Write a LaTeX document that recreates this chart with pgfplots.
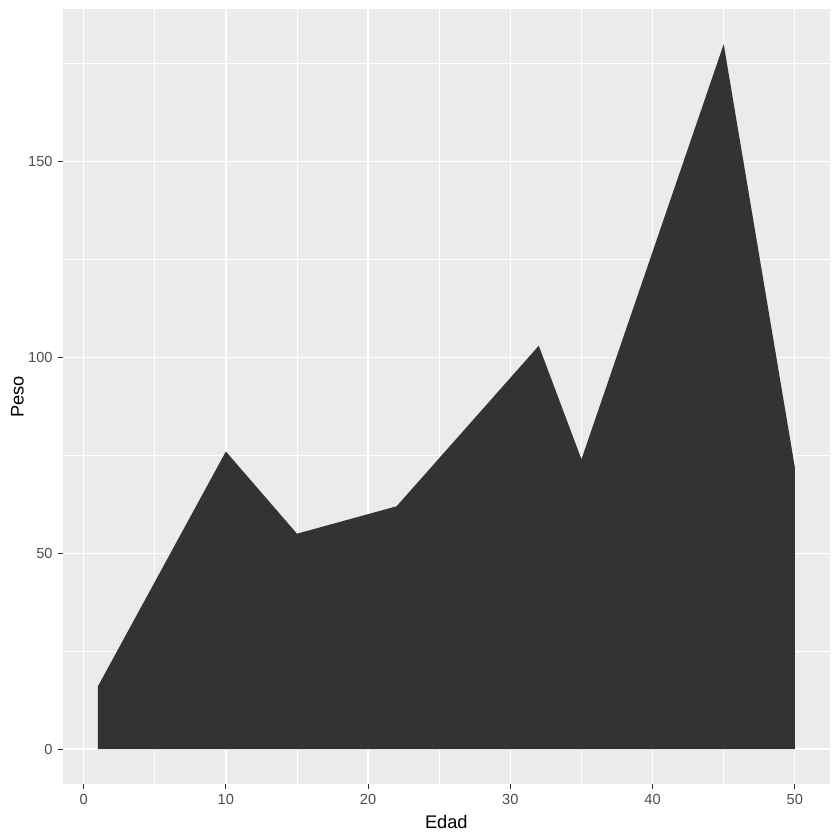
\documentclass[border=0pt]{standalone}
\usepackage{pgfplots}
\pgfplotsset{compat=1.18}
\usepackage{fontspec}
\setmainfont{Liberation Sans}
\definecolor{panelbg}{HTML}{EBEBEB}
\definecolor{areafill}{HTML}{333333}
\definecolor{ticklab}{HTML}{4D4D4D}
\definecolor{tickcol}{HTML}{333333}
\begin{document}
\begin{tikzpicture}
\begin{axis}[name=ax, scale only axis, width=460bp, height=465.2bp,
  xmin=-1.45, xmax=52.45, ymin=-9, ymax=189,
  axis background/.style={fill=panelbg},
  axis line style={draw=none},
  xtick={0,10,...,50}, ytick={0,50,100,150},
  minor xtick={5,15,...,45}, minor ytick={25,75,125,175},
  grid=both,
  major grid style={white, line width=0.8bp},
  minor grid style={white, line width=0.45bp},
  tick align=outside, tick pos=left,
  major tick length=2.75bp, minor tick length=0pt,
  major tick style={tickcol, line width=0.6bp},
  tick label style={font=\fontsize{8.8}{10}\selectfont, text=ticklab},
  /pgf/number format/assume math mode=true,
  xlabel={Edad}, ylabel={Peso},
  label style={font=\fontsize{11}{13}\selectfont, text=black},
  xlabel style={at={(axis description cs:0.5,0)}, anchor=base, yshift=-26.2bp},
  ylabel style={at={(axis description cs:0,0.5)}, anchor=base, yshift=23.6bp},
]
\addplot[fill=areafill, draw=none] coordinates {
(1,16) (10,76) (15,55) (22,62) (32,103) (35,74) (45,180) (50,72)
} \closedcycle;
\end{axis}
\path ([shift={(-37.8bp,-33.4bp)}]ax.south west) rectangle ([shift={(6.2bp,5.4bp)}]ax.north east);
\end{tikzpicture}
\end{document}
